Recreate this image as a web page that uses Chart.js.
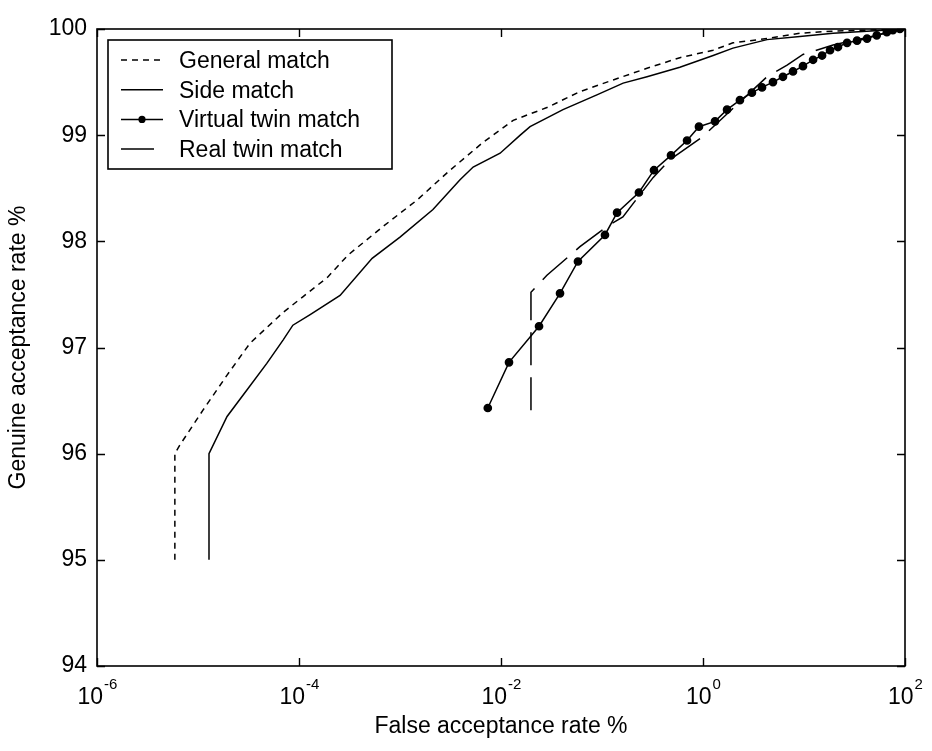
<!DOCTYPE html>
<html>
<head>
<meta charset="utf-8">
<script src="https://cdn.jsdelivr.net/npm/chart.js@4.4.1/dist/chart.umd.min.js"></script>
<style>
  html, body { margin: 0; padding: 0; background: #fff; }
  #wrap { width: 932px; height: 751px; }
</style>
</head>
<body>
<div id="wrap"><canvas id="chart" width="932" height="751"></canvas></div>
<script>
// values (x = FAR %, y = GAR %)
const generalX = [5.9e-6, 5.9e-6, 6.6e-6, 1.12e-5, 1.94e-5, 3.27e-5, 6.95e-5, 1.1e-4, 1.91e-4, 3.05e-4,
  6.8e-4, 1.48e-3, 3.13e-3, 6.6e-3, 0.0132, 0.0285, 0.0605, 0.129, 0.279, 0.59, 1.26, 1.98, 4.3, 9.1, 19.4, 100];
const generalY = [95.0, 96.0, 96.08, 96.41, 96.74, 97.04, 97.33, 97.48, 97.66, 97.87,
  98.14, 98.39, 98.67, 98.93, 99.14, 99.26, 99.41, 99.52, 99.63, 99.73, 99.80, 99.87, 99.91, 99.96, 99.98, 100];

const sideX = [1.285e-5, 1.285e-5, 1.94e-5, 3.05e-5, 4.8e-5, 6.95e-5, 8.7e-5, 1.29e-4, 2.55e-4, 5.3e-4,
  1.0e-3, 2.12e-3, 3.93e-3, 5.3e-3, 9.8e-3, 0.0155, 0.0194, 0.0411, 0.089, 0.162, 0.279, 0.59, 1.26, 1.98, 4.3, 9.1, 19.4, 100];
const sideY = [95.0, 96.0, 96.35, 96.6, 96.85, 97.07, 97.21, 97.31, 97.49, 97.84,
  98.04, 98.30, 98.58, 98.70, 98.83, 99.0, 99.08, 99.24, 99.38, 99.49, 99.55, 99.64, 99.75, 99.82, 99.90, 99.93, 99.96, 100];

const virtualX = [7.4e-3, 0.012, 0.0238, 0.0384, 0.0578, 0.107, 0.141, 0.232, 0.327, 0.482, 0.695, 0.912,
  1.315, 1.73, 2.32, 3.05, 3.84, 4.93, 6.19, 7.78, 9.77, 12.3, 15.1, 18.1, 21.7, 26.7, 33.5, 42.1, 52.5, 66.1, 75.9, 89];
const virtualY = [96.43, 96.86, 97.20, 97.51, 97.81, 98.06, 98.27, 98.46, 98.67, 98.81, 98.95, 99.08,
  99.13, 99.24, 99.33, 99.40, 99.45, 99.50, 99.55, 99.60, 99.65, 99.71, 99.75, 99.80, 99.83, 99.87, 99.89, 99.91, 99.94, 99.97, 99.99, 100];

const realX = [0.0198, 0.0198, 0.0285, 0.0605, 0.112, 0.161, 0.238, 0.32, 0.471, 0.977, 4.3, 6.8, 9.77, 19.4, 100];
const realY = [96.41, 97.52, 97.68, 97.95, 98.14, 98.23, 98.44, 98.60, 98.77, 98.98, 99.55, 99.66, 99.76, 99.85, 100];

const xTicks = [1e-6, 1e-4, 1e-2, 1, 100];
const xTickExp = ["-6", "-4", "-2", "0", "2"];

const FONT = "'Liberation Sans', Arial, Helvetica, sans-serif";

function pts(xs, ys) {
  return xs.map((x, i) => ({ x: x, y: ys[i] }));
}

// box, inward ticks, x tick labels with exponents, legend
const matlabAxes = {
  id: "matlabAxes",
  afterDraw(chart) {
    const ctx = chart.ctx;
    const a = chart.chartArea;
    const xs = chart.scales.x;
    const ys = chart.scales.y;
    ctx.save();
    ctx.strokeStyle = "#000";
    ctx.lineWidth = 1.6;
    ctx.strokeRect(a.left, a.top, a.right - a.left, a.bottom - a.top);

    ctx.beginPath();
    xTicks.forEach(v => {
      const px = Math.round(xs.getPixelForValue(v)) + 0.5;
      ctx.moveTo(px, a.bottom); ctx.lineTo(px, a.bottom - 8);
      ctx.moveTo(px, a.top); ctx.lineTo(px, a.top + 8);
    });
    ys.ticks.forEach(t => {
      const py = Math.round(ys.getPixelForValue(t.value)) + 0.5;
      ctx.moveTo(a.left, py); ctx.lineTo(a.left + 8, py);
      ctx.moveTo(a.right, py); ctx.lineTo(a.right - 8, py);
    });
    ctx.lineWidth = 1.4;
    ctx.stroke();

    // x tick labels: 10 with superscript exponent
    ctx.fillStyle = "#000";
    ctx.textBaseline = "alphabetic";
    ctx.textAlign = "left";
    xTicks.forEach((v, i) => {
      const px = xs.getPixelForValue(v);
      ctx.font = "23px " + FONT;
      const w1 = ctx.measureText("10").width;
      ctx.font = "15px " + FONT;
      const w2 = ctx.measureText(xTickExp[i]).width;
      const left = px - (w1 + w2) / 2;
      ctx.font = "23px " + FONT;
      ctx.fillText("10", left, a.bottom + 38);
      ctx.font = "15px " + FONT;
      ctx.fillText(xTickExp[i], left + w1 + 1, a.bottom + 23);
    });

    // legend
    const lx = a.left + 11, ly = a.top + 11, lw = 284, lh = 129;
    ctx.fillStyle = "#fff";
    ctx.fillRect(lx, ly, lw, lh);
    ctx.lineWidth = 1.6;
    ctx.strokeRect(lx, ly, lw, lh);
    chart.data.datasets.forEach((ds, i) => {
      const yy = ly + 20 + i * 29.7;
      ctx.beginPath();
      ctx.setLineDash(ds.borderDash || []);
      ctx.lineWidth = ds.borderWidth;
      ctx.strokeStyle = "#000";
      ctx.moveTo(lx + 13, yy);
      ctx.lineTo(lx + 55, yy);
      ctx.stroke();
      ctx.setLineDash([]);
      if (ds.pointRadius > 0) {
        ctx.beginPath();
        ctx.arc(lx + 34, yy, ds.pointRadius, 0, Math.PI * 2);
        ctx.fillStyle = "#000";
        ctx.fill();
      }
      ctx.fillStyle = "#000";
      ctx.font = "23px " + FONT;
      ctx.fillText(ds.label, lx + 71, yy + 8);
    });
    ctx.restore();
  }
};

const line = { borderColor: "#000", backgroundColor: "#000", borderWidth: 1.5, pointRadius: 0, fill: false, tension: 0 };

new Chart(document.getElementById("chart"), {
  type: "line",
  data: {
    datasets: [
      Object.assign({ label: "General match", data: pts(generalX, generalY), borderDash: [6, 5] }, line),
      Object.assign({ label: "Side match", data: pts(sideX, sideY) }, line),
      Object.assign({}, line, { label: "Virtual twin match", data: pts(virtualX, virtualY), pointRadius: 3.6, pointStyle: "circle" }),
      Object.assign({ label: "Real twin match", data: pts(realX, realY), borderDash: [33, 12] }, line)
    ]
  },
  options: {
    responsive: false,
    devicePixelRatio: 1,
    animation: false,
    layout: { padding: { top: 29, right: 27, left: 0, bottom: 0 } },
    plugins: { legend: { display: false }, tooltip: { enabled: false } },
    scales: {
      x: {
        type: "logarithmic",
        min: 1e-6,
        max: 100,
        grid: { display: false, drawTicks: false },
        border: { display: false },
        ticks: { display: false },
        afterBuildTicks: s => { s.ticks = xTicks.map(v => ({ value: v })); },
        afterFit: s => { s.height = 85; },
        title: { display: true, text: "False acceptance rate %", color: "#000", font: { family: FONT, size: 23 }, padding: { top: 0, bottom: 11 } }
      },
      y: {
        min: 94,
        max: 100,
        grid: { display: false, drawTicks: false },
        border: { display: false },
        ticks: { stepSize: 1, color: "#000", padding: 10, font: { family: FONT, size: 23 } },
        afterFit: s => { s.width = 97; },
        title: { display: true, text: "Genuine acceptance rate %", color: "#000", font: { family: FONT, size: 23 }, padding: { top: 5, bottom: 0 } }
      }
    }
  },
  plugins: [matlabAxes]
});
</script>
</body>
</html>
